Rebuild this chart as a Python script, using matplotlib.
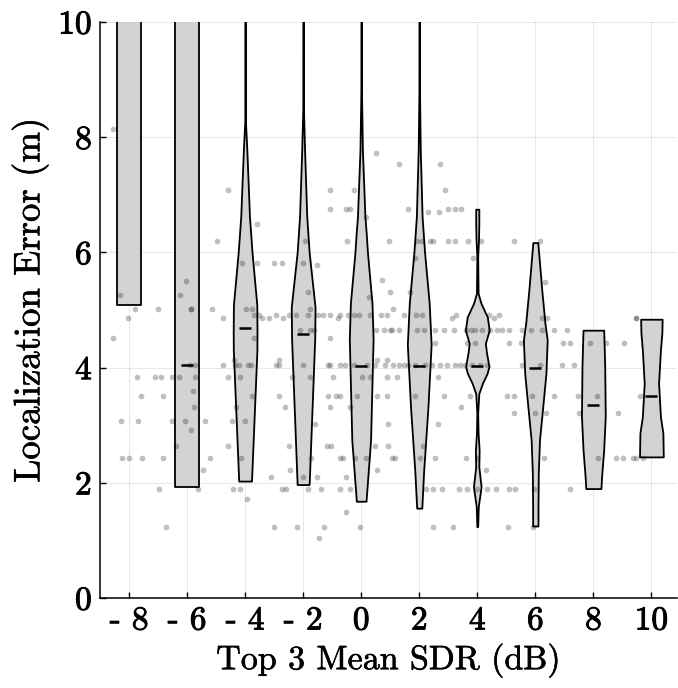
import numpy as np
import matplotlib
matplotlib.use("Agg")
import matplotlib.pyplot as plt
import matplotlib.patheffects as pe

# bins of the mean SDR (dB)
sdr_bins = [-8, -6, -4, -2, 0, 2, 4, 6, 8, 10]
tick_labels = ['- 8', '- 6', '- 4', '- 2', '0', '2', '4', '6', '8', '10']

# violin outlines: y levels and relative half widths
violin_y = [
    [5.09, 13.0],
    [1.92, 13.0],
    [2.03, 4.3, 4.6, 5.09, 6.0, 6.62, 7.78, 8.3, 13.0],
    [1.97, 4.5, 5.05, 6.0, 6.62, 7.78, 8.5, 13.0],
    [1.68, 2.74, 4.5, 5.12, 6.0, 6.33, 6.62, 7.78, 8.8, 13.0],
    [1.56, 2.17, 3.32, 4.4, 5.12, 6.0, 6.62, 7.78, 8.8, 13.0],
    [1.24, 1.59, 1.93, 2.28, 2.57, 2.86, 3.21, 3.55, 3.73, 3.9, 4.02, 4.25,
     4.42, 4.65, 4.88, 5.12, 5.29, 5.93, 6.22, 6.5, 6.75],
    [1.25, 1.59, 2.17, 2.74, 3.32, 3.9, 4.48, 4.77, 5.35, 6.17],
    [1.90, 2.1, 2.57, 3.15, 4.02, 4.55, 4.65],
    [2.45, 2.86, 3.15, 3.73, 4.3, 4.6, 4.84],
]
violin_w = [
    [1.0, 1.0],
    [1.0, 1.0],
    [6.3, 11.6, 11.7, 11.5, 6.8, 4.3, 1.7, 0.25, 0.2],
    [5.5, 10.6, 10.9, 5.5, 3.3, 1.3, 0.3, 0.2],
    [4.8, 9.3, 11.8, 10.7, 6.2, 5.0, 3.7, 1.2, 0.3, 0.2],
    [2.5, 4.2, 8.5, 11.6, 9.7, 5.2, 2.8, 1.0, 0.3, 0.2],
    [0.4, 1.0, 3.7, 1.5, 1.8, 0.8, 0.4, 1.5, 5.0, 9.5, 11.3, 9.0,
     7.8, 11.5, 9.7, 3.5, 0.8, 0.4, 1.2, 1.5, 1.5],
    [2.7, 2.7, 3.0, 4.2, 7.5, 10.7, 12.0, 9.7, 6.5, 2.5],
    [7.2, 7.8, 9.8, 11.3, 10.8, 10.0, 9.8],
    [11.6, 11.2, 8.8, 7.0, 8.8, 10.2, 10.5],
]
medians = [np.nan, 4.04, 4.68, 4.58, 4.03, 4.03, 4.03, 3.99, 3.35, 3.51]

# individual results (x = top 3 mean SDR, y = localization error)
pts_x = [
    -8.56,
    0.51,
    1.32, 2.70,
    -4.59, -1.09, -0.26, 2.90,
    -1.09, -0.52, -0.38, 1.62, 3.00, 3.22, 3.44,
    2.31, 2.69,
    0.17,
    -3.60,
    -4.97, -1.93, -0.49, 0.95, 1.92, 2.09, 2.38, 2.47, 2.98, 3.22, 3.67, 4.13, 5.27, 6.15,
    1.86, 3.87,
    -4.09, -3.60, -2.99, -2.72, -1.99, -1.53,
    0.72, 6.33,
    -6.02,
    -1.85, 0.98, 1.69,
    -8.31, -6.24,
    0.26,
    -7.79, -7.00, -5.87, -5.85, -5.14, -3.97, -3.75, -1.78, 1.11,
    -3.69, -3.52, -2.92, -2.49, -2.26, -1.83, -1.49, -1.32, -1.09, -0.72, -0.47, -0.26,
    -0.06, 0.29, 0.68, 0.89, 1.48, 1.88, 2.09, 3.26, 4.39, 4.76,
    -8.03, -4.75, -3.42, -3.18, -2.68, -0.80, 3.14, 4.56, 6.22, 6.40, 9.47, 9.48,
    -2.10, -1.78, -1.64, 0.52, 0.79, 0.98, 1.07, 1.29, 1.92, 2.17, 2.55, 2.84, 3.21,
    3.60, 3.78, 3.91, 4.16, 4.45, 4.68, 4.85, 5.08, 5.54, 5.86, 6.22, 6.65, 7.10,
    -8.56, -3.69, -1.09,
    2.55, 3.64, 3.91, 5.10, 5.50, 6.95, 7.20, 7.87, 8.45, 9.05,
    -4.37, -2.82, 0.54, 0.89,
    -5.90, -5.72, -4.77, -4.34, -4.20, -3.89, -3.79, -2.93, -2.82, -2.01, -1.15, -1.07,
    -0.72, -0.55, -0.26, 0.20, 0.48, 0.83, 1.09, 1.29, 1.46, 1.63, 1.86, 2.21, 2.44,
    2.72, 2.95, 3.24, 3.41, 3.59, 3.82, 4.10, 4.33, 5.54, 6.17, 6.92, 7.32,
    -7.71, -7.10, -6.89, -6.51, -6.27, -5.72, -4.58, -4.17, -2.39, -1.76, -0.98,
    0.02, 0.31, 0.89, 1.25, 2.63,
    -7.59, -6.84, -3.75, -2.82, -1.13, -0.86, -0.72, -0.15, 0.54, 0.89, 1.86, 2.87,
    3.76, 5.02, 5.25, 5.89, 6.63, 7.47, 8.13, 9.60,
    -5.80,
    -5.75, -4.32, -2.62, -1.09, -0.38, 3.44,
    5.25, 5.98, 6.38, 7.52, 8.84,
    -8.28, -7.68, -6.52, -6.08, -5.38, -4.44, -4.02, -1.59, 0.94, 2.64,
    -5.85,
    -6.37, -4.58, -2.48, -1.18, -1.03, 0.48, 0.94, 2.13,
    -8.23, -7.99, -7.54, -6.83, -5.21, -4.14, -1.72, -0.72, -0.61, -0.21, 0.17, 1.06,
    1.17, 2.03, 2.53, 3.62, 3.99, 6.29, 8.16, 8.77, 9.02, 9.37, 9.48, 9.71,
    -2.45, -5.46, 0.56, 4.30,
    -3.11, -2.01, -1.51, -0.52,
    -6.95, -5.63, -4.40, -4.17, -2.74, -2.60, -1.82, -1.38, -0.72, -0.40, 2.24, 2.49,
    2.78, 3.36, 3.64, 3.99, 4.33, 4.66, 5.10, 5.31, 5.94, 7.21,
    -3.93,
    -0.52,
    -6.72, -3.02, -2.22, -1.27, -0.03, 2.49, 3.16, 5.06, 5.92,
    -1.44,
]
pts_y = (
    [8.14] + [7.72] + [7.54] * 2 + [7.08] * 4 + [6.75] * 7 + [6.70] * 2 + [6.61]
    + [6.50] + [6.19] * 14 + [5.91] * 2 + [5.82] * 5 + [5.79] + [5.52, 5.49]
    + [5.50] + [5.31] * 3 + [5.26] * 2 + [5.22] + [5.01] * 9 + [4.91] * 22
    + [4.87] * 12 + [4.66] * 26 + [4.51] * 3 + [4.43] * 10 + [4.13] * 4
    + [4.04] * 37 + [3.83] * 16 + [3.51] * 20 + [3.59] + [3.31] * 6 + [3.21] * 5
    + [3.07] * 7 + [3.02] * 3 + [2.92] + [2.64] * 8 + [2.43] * 24 + [2.22] * 4
    + [2.10] * 4 + [1.90] * 22 + [1.72] + [1.50] + [1.24] * 9 + [1.04]
)

plt.rcParams['font.family'] = ['cmr10', 'DejaVu Serif']
plt.rcParams['axes.unicode_minus'] = False

fig = plt.figure(figsize=(6.78, 6.88), dpi=100)
ax = fig.add_axes([0.1475, 0.1308, 0.8505, 0.8372])

stats = []
for ys, ws, med in zip(violin_y, violin_w, medians):
    stats.append({'coords': ys, 'vals': ws, 'mean': med, 'median': med,
                  'min': ys[0], 'max': ys[-1]})
parts = ax.violin(stats, positions=sdr_bins, widths=0.82,
                  showextrema=False, showmedians=True)
for body in parts['bodies']:
    body.set_facecolor('#d3d3d3')
    body.set_edgecolor('black')
    body.set_linewidth(1.3)
    body.set_alpha(1)
    body.set_zorder(2)
parts['cmedians'].set_color('black')
parts['cmedians'].set_linewidth(1.8)
parts['cmedians'].set_zorder(4)

ax.scatter(pts_x, pts_y, s=17, color='black', alpha=0.25, linewidths=0, zorder=3)

ax.set_xlim(-9, 10.87)
ax.set_ylim(0, 10)
ax.set_xticks(sdr_bins)
ax.set_xticklabels(tick_labels)
ax.set_yticks([0, 2, 4, 6, 8, 10])
ax.tick_params(direction='in', length=4, width=1, labelsize=24, pad=6)
for lab in ax.get_xticklabels() + ax.get_yticklabels():
    lab.set_path_effects([pe.withStroke(linewidth=0.7, foreground='black')])
ax.grid(True, color='black', alpha=0.09, linewidth=0.8)
ax.set_axisbelow(True)
for side in ['top', 'right']:
    ax.spines[side].set_visible(False)
for side in ['left', 'bottom']:
    ax.spines[side].set_linewidth(1.1)

xl = ax.set_xlabel('Top 3 Mean SDR (dB)', fontsize=24.5, labelpad=6)
yl = ax.set_ylabel('Localization Error (m)', fontsize=26.5)
ax.yaxis.set_label_coords(-0.088, 0.517)
for lab in [xl, yl]:
    lab.set_path_effects([pe.withStroke(linewidth=0.4, foreground='black')])

fig.savefig('out.png', dpi=100)
